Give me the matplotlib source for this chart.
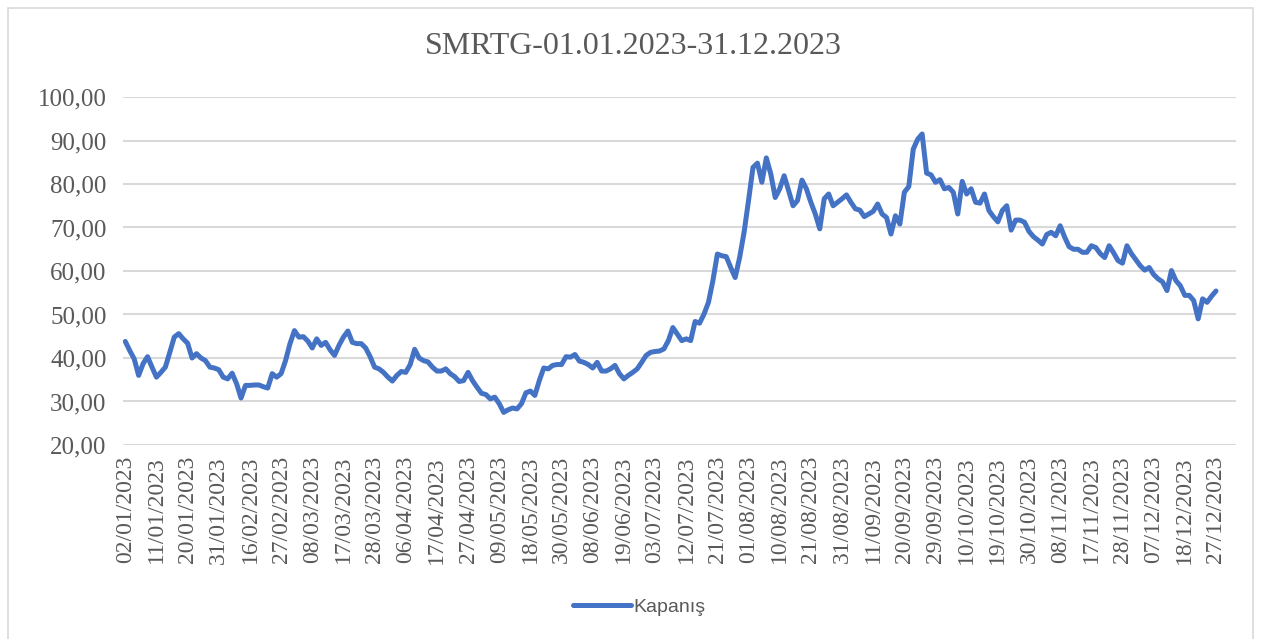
import matplotlib.pyplot as plt
from matplotlib.patches import Rectangle

# Closing prices (TL), one per trading day
kapanis = [
    43.8, 41.7, 39.8, 36.0, 38.7, 40.3, 37.9, 35.6, 36.7, 37.9,
    41.3, 44.8, 45.6, 44.4, 43.4, 40.0, 41.0, 40.0, 39.4, 37.9,
    37.7, 37.3, 35.6, 35.2, 36.5, 34.1, 30.8, 33.7, 33.7, 33.8,
    33.8, 33.4, 33.1, 36.4, 35.6, 36.4, 39.4, 43.3, 46.3, 44.8,
    44.9, 43.9, 42.3, 44.4, 42.9, 43.6, 41.9, 40.6, 42.9, 44.8,
    46.2, 43.6, 43.3, 43.3, 42.3, 40.3, 37.9, 37.5, 36.7, 35.6,
    34.7, 36.0, 36.9, 36.7, 38.5, 42.0, 40.0, 39.4, 39.1, 37.9,
    37.0, 37.0, 37.5, 36.4, 35.7, 34.6, 34.8, 36.7, 34.8, 33.3,
    31.9, 31.6, 30.6, 31.0, 29.5, 27.5, 28.1, 28.5, 28.3, 29.5,
    32.0, 32.4, 31.4, 34.8, 37.7, 37.5, 38.3, 38.5, 38.5, 40.3,
    40.2, 40.8, 39.3, 39.0, 38.5, 37.7, 39.0, 37.0, 37.0, 37.5,
    38.3, 36.4, 35.2, 36.0, 36.7, 37.5, 39.0, 40.6, 41.3, 41.5,
    41.6, 42.1, 44.0, 47.0, 45.5, 44.0, 44.4, 44.0, 48.4, 48.0,
    50.1, 52.8, 57.8, 63.9, 63.5, 63.3, 60.8, 58.5, 63.1, 68.9,
    76.2, 83.8, 84.8, 80.4, 86.0, 82.3, 76.9, 78.9, 81.9, 78.5,
    75.0, 76.2, 80.9, 78.9, 75.8, 73.1, 69.7, 76.6, 77.7, 75.0,
    75.8, 76.6, 77.5, 75.8, 74.3, 74.0, 72.5, 73.1, 73.7, 75.4,
    73.1, 72.3, 68.5, 72.7, 70.8, 78.1, 79.4, 88.0, 90.3, 91.5,
    82.5, 82.1, 80.4, 81.0, 78.9, 79.2, 78.1, 73.1, 80.6, 77.7,
    78.9, 75.8, 75.6, 77.7, 73.9, 72.5, 71.3, 73.9, 75.0, 69.4,
    71.7, 71.7, 71.2, 69.1, 67.9, 67.1, 66.2, 68.4, 68.9, 68.1,
    70.4, 67.8, 65.6, 65.0, 65.0, 64.3, 64.3, 65.8, 65.4, 64.0,
    63.1, 65.8, 64.2, 62.4, 61.8, 65.8, 64.0, 62.6, 61.2, 60.2,
    60.8, 59.2, 58.2, 57.5, 55.5, 60.1, 57.8, 56.6, 54.4, 54.4,
    53.2, 49.0, 53.6, 52.8, 54.2, 55.4,
]

# every 7th trading day gets a label
tarih_etiketleri = [
    '02/01/2023', '11/01/2023', '20/01/2023', '31/01/2023', '16/02/2023',
    '27/02/2023', '08/03/2023', '17/03/2023', '28/03/2023', '06/04/2023',
    '17/04/2023', '27/04/2023', '09/05/2023', '18/05/2023', '30/05/2023',
    '08/06/2023', '19/06/2023', '03/07/2023', '12/07/2023', '21/07/2023',
    '01/08/2023', '10/08/2023', '21/08/2023', '31/08/2023', '11/09/2023',
    '20/09/2023', '29/09/2023', '10/10/2023', '19/10/2023', '30/10/2023',
    '08/11/2023', '17/11/2023', '28/11/2023', '07/12/2023', '18/12/2023',
    '27/12/2023',
]
etiket_adimi = 7
y_degerleri = [20, 30, 40, 50, 60, 70, 80, 90, 100]

gri = '#595959'
serif = 'Liberation Serif'

fig = plt.figure(figsize=(12.66, 6.39), dpi=100)
ax = fig.add_axes([0.0972, 0.3036, 0.8791, 0.5446])

# light frame around the whole chart, like the Excel chart area
fig.patches.append(Rectangle((0.0063, -0.01), 0.9834, 0.9975, transform=fig.transFigure,
                             fill=False, edgecolor='#D9D9D9', linewidth=1.2))

gunler = list(range(len(kapanis)))
ax.plot(gunler, kapanis, color='#4472C4', linewidth=3.6, solid_joinstyle='round',
        solid_capstyle='round', label='Kapanış', zorder=3)

ax.set_ylim(20, 100)
ax.set_xlim(-0.5, 249.5)
ax.set_yticks(y_degerleri)
ax.set_yticklabels([f'{v:.2f}'.replace('.', ',') for v in y_degerleri],
                   fontsize=18, color=gri, fontfamily=serif)
ax.set_xticks([k * etiket_adimi for k in range(len(tarih_etiketleri))])
ax.set_xticklabels(tarih_etiketleri, rotation=90, fontsize=17, color=gri, fontfamily=serif)
ax.tick_params(length=0, pad=12)
ax.tick_params(axis='x', pad=8)
ax.grid(axis='y', color='#D9D9D9', linewidth=1.5)
ax.set_axisbelow(True)
for s in ax.spines.values():
    s.set_visible(False)

fig.text(0.5, 0.928, 'SMRTG-01.01.2023-31.12.2023', ha='center', va='center',
         fontsize=23, color=gri, fontfamily=serif)

leg = ax.legend(loc='center', bbox_to_anchor=(0.505, 0.05), bbox_transform=fig.transFigure,
                frameon=False, handlelength=3.0, handletextpad=0.1,
                prop={'family': 'Liberation Sans', 'size': 14})
for t in leg.get_texts():
    t.set_color(gri)

fig.savefig('out.png', dpi=100)
